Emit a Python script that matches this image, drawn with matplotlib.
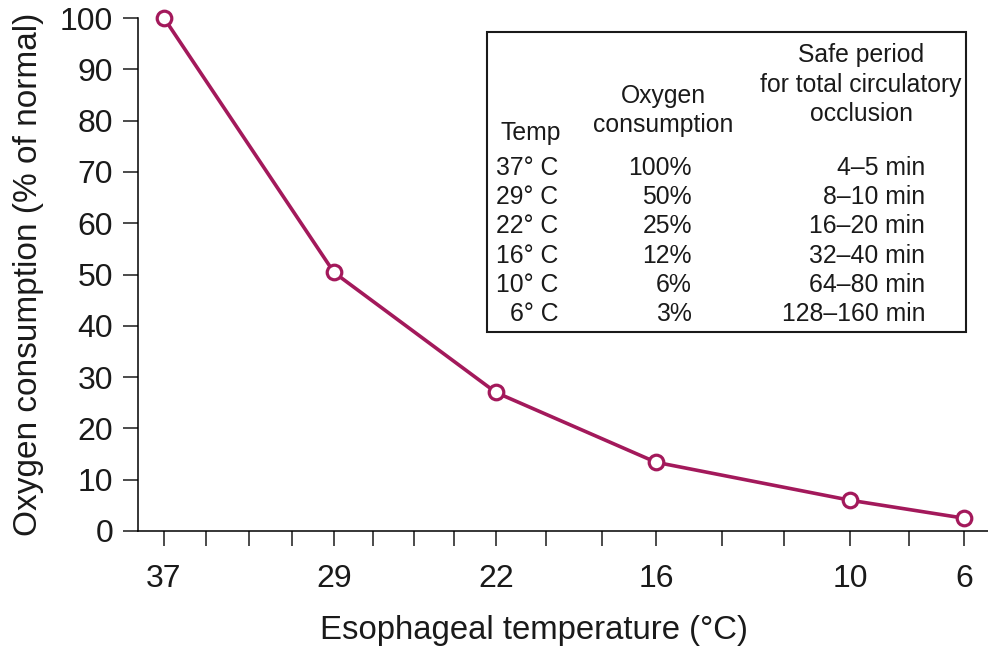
import matplotlib.pyplot as plt
from matplotlib.patches import Rectangle

plt.rcParams['font.family'] = ['Liberation Sans', 'DejaVu Sans']

# --- data ---
temps = ['37', '29', '22', '16', '10', '6']
oxygen = [100, 50.4, 27, 13.4, 6, 2.5]

# position of every tick along the (non-linear) temperature axis
tick_pos = [164, 206, 249, 292, 334, 373, 414, 454, 496, 546, 602, 656,
            722, 784, 850, 909, 964]
temp_pos = [164, 334, 496, 656, 850, 964]

# table in the inset box
tbl_temp = ['37° C', '29° C', '22° C', '16° C', '10° C', '6° C']
tbl_oxy = ['100%', '50%', '25%', '12%', '6%', '3%']
tbl_safe = ['4–5 min', '8–10 min', '16–20 min', '32–40 min', '64–80 min', '128–160 min']

color = '#A3195B'
W, H = 988, 647

fig = plt.figure(figsize=(W / 100, H / 100), dpi=100)
ax = fig.add_axes([138 / W, (H - 531) / H, (W - 138) / W, (531 - 18) / H])

ax.plot(temp_pos, oxygen, color=color, lw=2.6, marker='o', ms=10.5,
        mfc='white', mec=color, mew=2.3, clip_on=False, zorder=3)

ax.set_xlim(138, 988)
ax.set_ylim(0, 100)
ax.set_yticks(range(0, 101, 10))
ax.set_xticks(tick_pos)
ax.set_xticklabels([temps[temp_pos.index(p)] if p in temp_pos else '' for p in tick_pos])

for s in ['top', 'right']:
    ax.spines[s].set_visible(False)
for s in ['left', 'bottom']:
    ax.spines[s].set_linewidth(1.1)

ax.tick_params(axis='both', direction='out', length=11, width=1.1,
               labelsize=23, colors='#1a1a1a')
ax.tick_params(axis='x', pad=13)
ax.tick_params(axis='y', pad=7)

ax.set_xlabel('Esophageal temperature (°C)', fontsize=23.7, color='#1a1a1a')
ax.xaxis.set_label_coords(0.466, -0.163)
ax.set_ylabel('Oxygen consumption (% of normal)', fontsize=24, color='#1a1a1a')
ax.yaxis.set_label_coords(-0.111, 0.5)

# --- inset table ---
def ftext(x, y, s, **kw):
    fig.text(x / W, 1 - y / H, s, fontsize=17.8, color='#1a1a1a', va='baseline', **kw)

fig.patches.append(Rectangle((487 / W, 1 - 332 / H), (966 - 487) / W, (332 - 32) / H,
                             transform=fig.transFigure, fill=False,
                             lw=1.5, ec='#1a1a1a'))

ftext(500, 140, 'Temp', ha='left')
for y, s in zip([103, 132], ['Oxygen', 'consumption']):
    ftext(663, y, s, ha='center')
for y, s in zip([62, 92, 121], ['Safe period', 'for total circulatory', 'occlusion']):
    ftext(861, y, s, ha='center')

for i in range(len(tbl_temp)):
    y = 175 + 29.2 * i
    ftext(558, y, tbl_temp[i], ha='right')
    ftext(692, y, tbl_oxy[i], ha='right')
    ftext(925, y, tbl_safe[i], ha='right')

plt.savefig('out.png', dpi=100)
